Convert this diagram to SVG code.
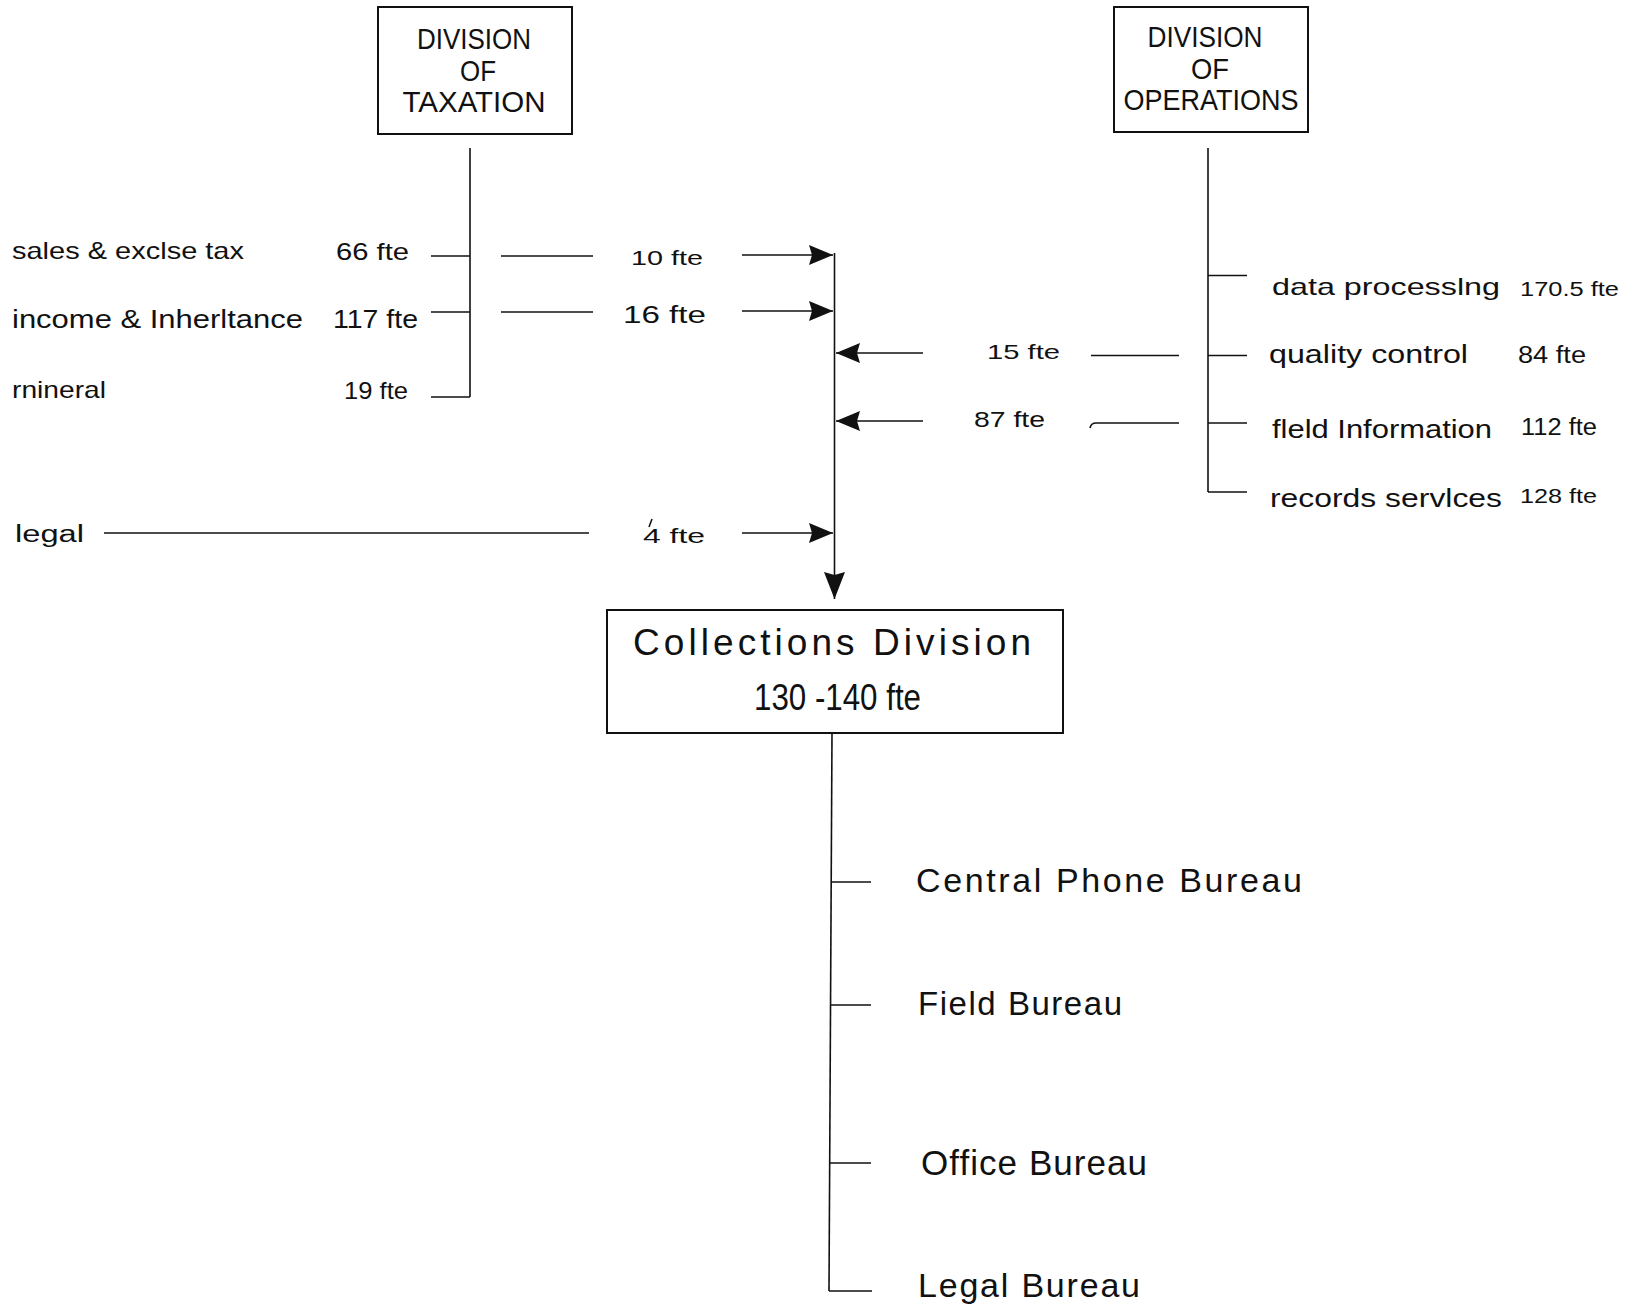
<svg xmlns="http://www.w3.org/2000/svg" width="1636" height="1305" viewBox="0 0 1636 1305">
<style>
.ln{stroke:#111;stroke-width:1.6;fill:none}
.box{fill:#fff;stroke:#111;stroke-width:2}
.t{font-family:"Liberation Sans",Arial,sans-serif;fill:#111}
.hd{font-size:29px;text-anchor:middle}
.s{font-size:24px}
.n{font-size:21px}
.b{font-size:34px}
</style>
<defs>
<marker id="ah" markerUnits="userSpaceOnUse" markerWidth="26" markerHeight="22" refX="24" refY="10" orient="auto"><path d="M0,0 L24,10 L0,20 L3,10 z" fill="#111"/></marker>
<marker id="ahd" markerUnits="userSpaceOnUse" markerWidth="29" markerHeight="23" refX="27" refY="10.5" orient="auto"><path d="M0,0 L27,10.5 L0,21 L3,10.5 z" fill="#111"/></marker>
</defs>
<rect width="1636" height="1305" fill="#fff"/>

<g id="connectors">
  <!-- taxation tree -->
  <line class="ln" x1="470" y1="148" x2="470" y2="397"/>
  <line class="ln" x1="431" y1="256" x2="470" y2="256"/>
  <line class="ln" x1="431" y1="312" x2="470" y2="312"/>
  <line class="ln" x1="431" y1="397" x2="470" y2="397"/>
  <!-- transfers from taxation -->
  <line class="ln" x1="501" y1="256" x2="593" y2="256"/>
  <line class="ln" x1="742" y1="255" x2="833" y2="255" marker-end="url(#ah)"/>
  <line class="ln" x1="501" y1="312" x2="593" y2="312"/>
  <line class="ln" x1="742" y1="311" x2="833" y2="311" marker-end="url(#ah)"/>
  <!-- legal -->
  <line class="ln" x1="104" y1="533" x2="589" y2="533"/>
  <line class="ln" x1="742" y1="533" x2="833" y2="533" marker-end="url(#ah)"/>
  <!-- collections feed line -->
  <line class="ln" x1="834.5" y1="253" x2="834.5" y2="599" marker-end="url(#ahd)"/>
  <!-- operations tree -->
  <line class="ln" x1="1208" y1="148" x2="1208" y2="492"/>
  <line class="ln" x1="1208" y1="275.5" x2="1247" y2="275.5"/>
  <line class="ln" x1="1208" y1="355.5" x2="1247" y2="355.5"/>
  <line class="ln" x1="1208" y1="423" x2="1247" y2="423"/>
  <line class="ln" x1="1208" y1="492" x2="1247" y2="492"/>
  <!-- transfers from operations -->
  <line class="ln" x1="1091" y1="355.5" x2="1179" y2="355.5"/>
  <line class="ln" x1="923" y1="353" x2="836" y2="353" marker-end="url(#ah)"/>
  <path class="ln" d="M1090,428 Q1091,423 1096,423 L1179,423"/>
  <line class="ln" x1="923" y1="421" x2="836" y2="421" marker-end="url(#ah)"/>
  <!-- collections bureaus -->
  <line class="ln" x1="832" y1="733" x2="829" y2="1291"/>
  <line class="ln" x1="832" y1="882" x2="871" y2="882"/>
  <line class="ln" x1="831" y1="1005" x2="871" y2="1005"/>
  <line class="ln" x1="830" y1="1163" x2="871" y2="1163"/>
  <line class="ln" x1="829" y1="1291" x2="872" y2="1291"/>
</g>

<g id="taxation">
  <rect class="box" x="378" y="7" width="194" height="127"/>
  <text class="t hd" x="474" y="49" textLength="114" lengthAdjust="spacingAndGlyphs">DIVISION</text>
  <text class="t hd" x="478" y="81" textLength="36" lengthAdjust="spacingAndGlyphs">OF</text>
  <text class="t hd" x="474" y="112" textLength="143" lengthAdjust="spacingAndGlyphs">TAXATION</text>
</g>

<g id="operations">
  <rect class="box" x="1114" y="7" width="194" height="125"/>
  <text class="t hd" x="1205" y="47" textLength="115" lengthAdjust="spacingAndGlyphs">DIVISION</text>
  <text class="t hd" x="1210" y="79" textLength="38" lengthAdjust="spacingAndGlyphs">OF</text>
  <text class="t hd" x="1211" y="110" textLength="175" lengthAdjust="spacingAndGlyphs">OPERATIONS</text>
</g>

<g id="collections">
  <rect class="box" x="607" y="610" width="456" height="123"/>
  <text class="t" x="633" y="655" font-size="37" textLength="398" lengthAdjust="spacing">Collections   Division</text>
  <text class="t" x="754" y="710" font-size="37" textLength="167" lengthAdjust="spacingAndGlyphs">130 -140 fte</text>
</g>

<g id="sales-excise">
  <text class="t s" x="12" y="259" textLength="232" lengthAdjust="spacingAndGlyphs">sales &amp; exclse tax</text>
  <text class="t s" x="336" y="260" textLength="73" lengthAdjust="spacingAndGlyphs">66 fte</text>
</g>
<g id="income-inheritance">
  <text class="t" x="12" y="328" font-size="25" textLength="291" lengthAdjust="spacingAndGlyphs">income &amp; Inherltance</text>
  <text class="t" x="333" y="328" font-size="25" textLength="85" lengthAdjust="spacingAndGlyphs">117 fte</text>
</g>
<g id="mineral">
  <text class="t s" x="12" y="398" textLength="94" lengthAdjust="spacingAndGlyphs">rnineral</text>
  <text class="t s" x="344" y="399" textLength="64" lengthAdjust="spacingAndGlyphs">19 fte</text>
</g>
<g id="legal">
  <text class="t" x="15" y="542" font-size="23" textLength="69" lengthAdjust="spacingAndGlyphs">legal</text>
</g>

<g id="transfer-10">
  <text class="t n" x="631" y="265" textLength="72" lengthAdjust="spacingAndGlyphs">10 fte</text>
</g>
<g id="transfer-16">
  <text class="t" x="623" y="323" font-size="23" textLength="83" lengthAdjust="spacingAndGlyphs">16 fte</text>
</g>
<g id="transfer-4">
  <text class="t n" x="643" y="543" textLength="62" lengthAdjust="spacingAndGlyphs">4 fte</text>
  <path class="ln" d="M649,527 L652,519" stroke-width="1.2"/>
</g>
<g id="transfer-15">
  <text class="t n" x="987" y="359" textLength="73" lengthAdjust="spacingAndGlyphs">15 fte</text>
</g>
<g id="transfer-87">
  <text class="t" x="974" y="427" font-size="22" textLength="71" lengthAdjust="spacingAndGlyphs">87 fte</text>
</g>

<g id="data-processing">
  <text class="t s" x="1272" y="295" textLength="228" lengthAdjust="spacingAndGlyphs">data processlng</text>
  <text class="t" x="1520" y="296" font-size="20" textLength="99" lengthAdjust="spacingAndGlyphs">170.5 fte</text>
</g>
<g id="quality-control">
  <text class="t" x="1269" y="363" font-size="25" textLength="199" lengthAdjust="spacingAndGlyphs">quality control</text>
  <text class="t" x="1518" y="363" font-size="23" textLength="68" lengthAdjust="spacingAndGlyphs">84 fte</text>
</g>
<g id="field-information">
  <text class="t" x="1272" y="438" font-size="25" textLength="220" lengthAdjust="spacingAndGlyphs">fleld Information</text>
  <text class="t" x="1521" y="435" font-size="23" textLength="76" lengthAdjust="spacingAndGlyphs">112 fte</text>
</g>
<g id="records-services">
  <text class="t" x="1270" y="507" font-size="25" textLength="232" lengthAdjust="spacingAndGlyphs">records servlces</text>
  <text class="t" x="1520" y="503" font-size="21" textLength="77" lengthAdjust="spacingAndGlyphs">128 fte</text>
</g>

<g id="central-phone-bureau">
  <text class="t b" x="916" y="892" textLength="386" lengthAdjust="spacing">Central Phone Bureau</text>
</g>
<g id="field-bureau">
  <text class="t" x="918" y="1015" font-size="33" textLength="204" lengthAdjust="spacing">Field Bureau</text>
</g>
<g id="office-bureau">
  <text class="t" x="921" y="1175" font-size="35" textLength="226" lengthAdjust="spacing">Office Bureau</text>
</g>
<g id="legal-bureau">
  <text class="t" x="918" y="1297" font-size="34" textLength="222" lengthAdjust="spacing">Legal Bureau</text>
</g>
</svg>
